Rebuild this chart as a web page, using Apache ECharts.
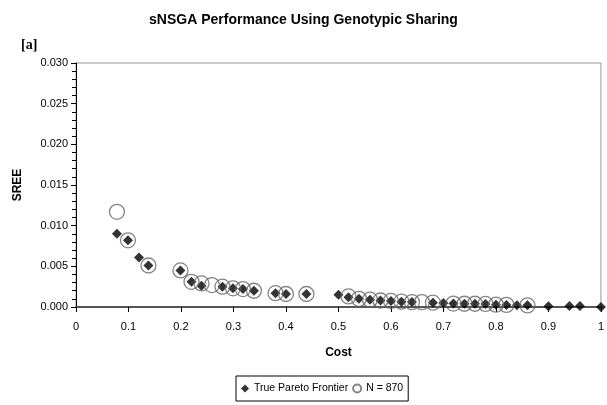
<!DOCTYPE html>
<html>
<head>
<meta charset="utf-8">
<script src="https://cdn.jsdelivr.net/npm/echarts@6/dist/echarts.min.js"></script>
<style>
html,body{margin:0;padding:0;background:#fff;}
#chart{width:607px;height:405px;}
</style>
</head>
<body>
<div id="chart"></div>
<script>
// 真实帕累托前沿
var paretoFront = [
	[0.078, 0.0090], [0.099, 0.0082], [0.120, 0.0061], [0.138, 0.0051],
	[0.199, 0.0045], [0.220, 0.0031], [0.239, 0.0026], [0.279, 0.0025],
	[0.299, 0.0023], [0.318, 0.0022], [0.339, 0.0020], [0.380, 0.0017],
	[0.400, 0.0016], [0.439, 0.0016], [0.500, 0.0015], [0.519, 0.0012],
	[0.539, 0.0010], [0.560, 0.0009], [0.580, 0.0008], [0.600, 0.00075],
	[0.620, 0.00065], [0.640, 0.0006], [0.680, 0.00053], [0.700, 0.0005],
	[0.719, 0.00042], [0.740, 0.0004], [0.760, 0.0004], [0.780, 0.00038],
	[0.800, 0.00028], [0.820, 0.00026], [0.840, 0.0002], [0.860, 0.0002],
	[0.900, 0.0001], [0.940, 0.00013], [0.960, 0.00013], [1.000, 0]
];
// N = 870
var sngaPoints = [
	[0.078, 0.0117], [0.099, 0.0082], [0.138, 0.0051], [0.199, 0.0045],
	[0.220, 0.0031], [0.239, 0.0029], [0.259, 0.0027], [0.279, 0.0025],
	[0.299, 0.0023], [0.318, 0.0022], [0.339, 0.0020], [0.380, 0.0017],
	[0.400, 0.0016], [0.439, 0.0016], [0.519, 0.0013], [0.539, 0.0010],
	[0.560, 0.0009], [0.580, 0.0008], [0.600, 0.00075], [0.620, 0.00065],
	[0.640, 0.0006], [0.659, 0.0006], [0.680, 0.00053], [0.719, 0.00042],
	[0.740, 0.0004], [0.760, 0.0004], [0.780, 0.00038], [0.800, 0.00028],
	[0.820, 0.00026], [0.860, 0.0002]
];
var seriesNames = ['True Pareto Frontier', 'N = 870'];

var chart = echarts.init(document.getElementById('chart'));
var option = {
	animation: false,
	textStyle: { fontFamily: 'Liberation Sans, Arial, sans-serif' },
	title: [
		{
			text: 'sNSGA Performance Using Genotypic Sharing',
			left: 'center',
			top: 8,
			textStyle: { fontSize: 14, fontWeight: 'bold', color: '#000' }
		},
		{
			text: '[a]',
			left: 16,
			top: 33,
			textStyle: { fontSize: 14, fontWeight: 'bold', color: '#000', fontFamily: 'Liberation Serif, Times New Roman, serif' }
		}
	],
	legend: {
		left: 236,
		bottom: 4,
		data: seriesNames,
		itemWidth: 8,
		itemHeight: 8,
		itemGap: 4,
		borderColor: '#000',
		borderWidth: 1,
		padding: [7, 5],
		textStyle: { fontSize: 10.5, color: '#000' }
	},
	grid: {
		left: 76,
		right: 4,
		top: 63,
		bottom: 98,
		show: true,
		borderColor: '#999',
		borderWidth: 1
	},
	xAxis: {
		type: 'value',
		min: 0,
		max: 1,
		interval: 0.1,
		name: 'Cost',
		nameLocation: 'middle',
		nameGap: 40,
		nameTextStyle: { fontSize: 12, fontWeight: 'bold', color: '#000' },
		axisLine: { lineStyle: { color: '#555', width: 2 } },
		axisTick: { show: true, length: 5, lineStyle: { color: '#000' } },
		axisLabel: {
			fontSize: 11, color: '#000', margin: 14,
			formatter: function (v) { return String(Math.round(v * 10) / 10); }
		},
		splitLine: { show: false }
	},
	yAxis: {
		type: 'value',
		min: 0,
		max: 0.03,
		interval: 0.005,
		name: 'SREE',
		nameLocation: 'middle',
		nameGap: 52,
		nameTextStyle: { fontSize: 12, fontWeight: 'bold', color: '#000' },
		axisLine: { show: true, lineStyle: { color: '#000', width: 1 } },
		axisTick: { show: true, length: 5, lineStyle: { color: '#000' } },
		minorTick: { show: true, splitNumber: 5, length: 4, lineStyle: { color: '#000' } },
		axisLabel: {
			fontSize: 11, color: '#000', margin: 8,
			formatter: function (v) { return v.toFixed(3); }
		},
		splitLine: { show: false }
	},
	series: [
		{
			name: seriesNames[0],
			type: 'scatter',
			symbol: 'diamond',
			symbolSize: 10,
			z: 3,
			itemStyle: { color: '#000' },
			data: paretoFront
		},
		{
			name: seriesNames[1],
			type: 'scatter',
			symbol: 'circle',
			symbolSize: 15,
			z: 4,
			itemStyle: { color: 'rgba(255,255,255,0)', borderColor: '#666', borderWidth: 1.3 },
			data: sngaPoints
		}
	]
};
chart.setOption(option);
</script>
</body>
</html>
